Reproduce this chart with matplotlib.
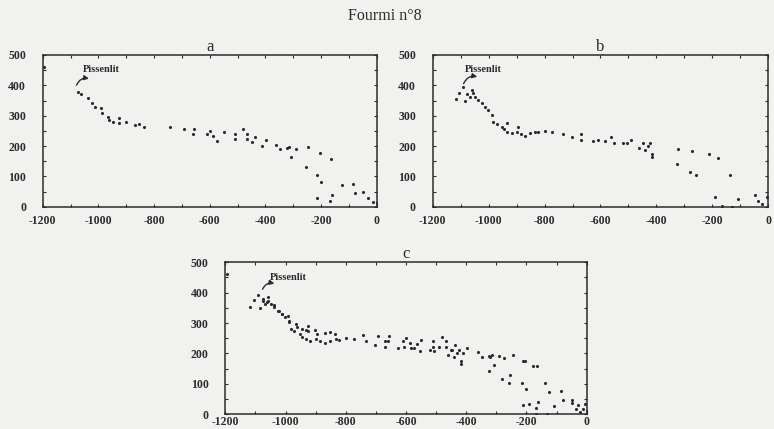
import matplotlib.pyplot as plt
from matplotlib.ticker import MultipleLocator

a_x = [-1195, -1074, -1063, -1038, -1022, -1012, -991, -988, -964, -963, -946, -926, -926,
       -901, -868, -854, -836, -743, -692, -656, -659, -611, -599, -587, -573, -549, -509,
       -509, -479, -467, -467, -447, -437, -411, -399, -362, -347, -323, -316, -309, -291,
       -255, -246, -216, -213, -204, -200, -168, -164, -162, -124, -86, -78, -48, -30, -12, 0]
a_y = [460, 379, 370, 359, 341, 330, 324, 308, 297, 286, 280, 291, 275,
       278, 269, 272, 264, 262, 257, 257, 240, 240, 250, 233, 218, 246, 240,
       222, 255, 240, 222, 213, 229, 200, 219, 204, 190, 193, 196, 163, 191,
       130, 196, 104, 30, 176, 82, 20, 158, 39, 72, 75, 46, 48, 30, 16, 11]

# trajectoire b
b_x = [-1117, -1105, -1091, -1085, -1076, -1067, -1058, -1057, -1049, -1037, -1025, -1013,
       -1001, -989, -983, -971, -953, -945, -933, -933, -918, -900, -894, -885, -870, -852,
       -834, -822, -798, -774, -733, -703, -671, -671, -628, -608, -584, -564, -552, -521,
       -506, -491, -461, -449, -441, -429, -423, -417, -417, -322, -325, -274, -280, -259,
       -211, -179, -137, -190, -167, -131, -107, -48, -36, -22, -6]
b_y = [354, 376, 394, 349, 372, 363, 385, 374, 363, 352, 341, 330,
       319, 302, 280, 273, 264, 255, 277, 247, 242, 247, 264, 240, 233, 242,
       247, 246, 250, 247, 240, 229, 240, 220, 218, 220, 218, 231, 209, 211,
       209, 220, 194, 211, 187, 200, 211, 174, 165, 189, 141, 185, 115, 103,
       174, 160, 103, 33, 2, 0, 26, 38, 19, 9, 33]

# c = superposition de a et b
c_x = a_x + b_x
c_y = a_y + b_y

x_ticks = [-1200, -1000, -800, -600, -400, -200, 0]
y_ticks = [0, 100, 200, 300, 400, 500]

bg = '#f1f1ef'
ink = '#2b2b2b'
plt.rcParams['font.family'] = ['Liberation Serif', 'DejaVu Serif']
plt.rcParams['axes.unicode_minus'] = False


def draw(ax, xs, ys, title, label_xy, arrow_tail, arrow_head, xpad=6):
    ax.set_facecolor(bg)
    ax.scatter(xs, ys, s=5, color=ink, linewidths=0)
    ax.set_xlim(-1200, 0)
    ax.set_ylim(0, 500)
    ax.set_xticks(x_ticks)
    ax.set_yticks(y_ticks)
    ax.xaxis.set_minor_locator(MultipleLocator(100))
    ax.yaxis.set_minor_locator(MultipleLocator(50))
    ax.tick_params(which='both', direction='in', top=True, right=True,
                   length=2.5, width=0.8, color=ink, labelsize=8.5, labelcolor=ink)
    ax.tick_params(axis='x', pad=xpad)
    ax.tick_params(axis='y', pad=12)
    for lab in ax.get_xticklabels() + ax.get_yticklabels():
        lab.set_fontweight('bold')
    for sp in ax.spines.values():
        sp.set_color(ink)
        sp.set_linewidth(1.1)
    ax.set_title(title, fontsize=12, color=ink, pad=3)
    ax.text(label_xy[0], label_xy[1], 'Pissenlit', fontsize=7.5, fontweight='bold',
            color=ink, va='center', ha='left')
    ax.annotate('', xy=arrow_head, xytext=arrow_tail,
                arrowprops=dict(arrowstyle='-|>', color=ink, lw=1.0, mutation_scale=7,
                                connectionstyle='arc3,rad=-0.5'))


fig = plt.figure(figsize=(7.74, 4.29), dpi=100)
fig.patch.set_facecolor(bg)

ax_a = fig.add_axes([0.0552, 0.5182, 0.4315, 0.3536])
ax_b = fig.add_axes([0.5590, 0.5182, 0.4336, 0.3536])
ax_c = fig.add_axes([0.2911, 0.0343, 0.4669, 0.3543])

draw(ax_a, a_x, a_y, 'a', (-1054, 452), (-1082, 392), (-1024, 420))
draw(ax_b, b_x, b_y, 'b', (-1084, 452), (-1093, 397), (-1031, 426))
draw(ax_c, c_x, c_y, 'c', (-1051, 450), (-1080, 403), (-1028, 428), xpad=1.2)

fig.text(0.497, 0.962, 'Fourmi n°8', ha='center', va='center', fontsize=11.5, color=ink)

plt.savefig('out.png', dpi=100, facecolor=bg)
